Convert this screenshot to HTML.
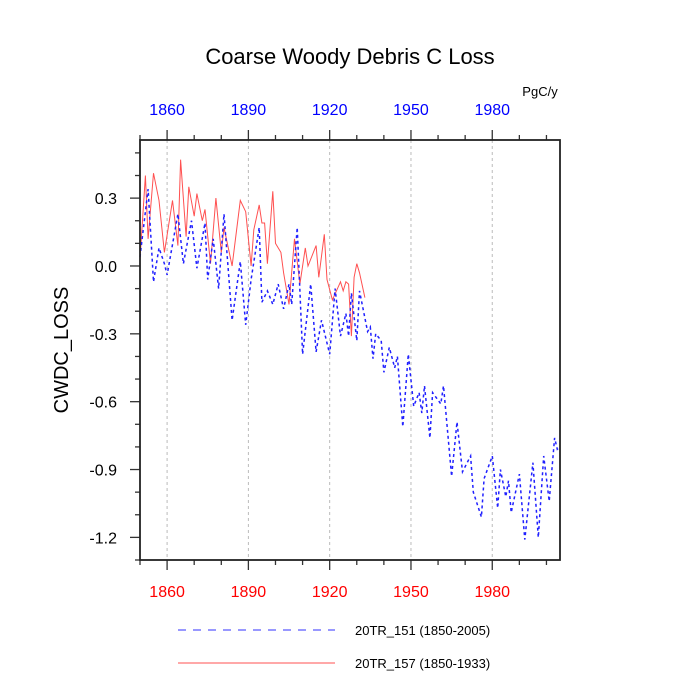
<!DOCTYPE html>
<html><head><meta charset="utf-8"><style>
body{margin:0;background:#fff}
svg{display:block;font-family:"Liberation Sans",sans-serif}
</style></head><body>
<svg id="chart" width="700" height="700" viewBox="0 0 700 700">
<text x="350" y="64" font-size="22" text-anchor="middle">Coarse Woody Debris C Loss</text>
<text x="540" y="96" font-size="13" text-anchor="middle">PgC/y</text>
<text transform="translate(68,350) rotate(-90)" font-size="20" text-anchor="middle">CWDC_LOSS</text>
<g id="grid"></g>
<g id="series"></g>
<g id="axes"></g>
<rect x="140" y="140" width="420" height="420" fill="none" stroke="#222" stroke-width="1.8"/>
<g>
<line x1="178" y1="630" x2="335" y2="630" stroke="#3030ff" stroke-width="1" stroke-dasharray="8,7"/>
<text x="355" y="635" font-size="13">20TR_151 (1850-2005)</text>
<line x1="178" y1="663" x2="335" y2="663" stroke="#ff5050" stroke-width="1"/>
<text x="355" y="668" font-size="13">20TR_157 (1850-1933)</text>
</g>
</svg>
<script>
const xTicks=[1860,1890,1920,1950,1980];
const yTicks=[0.3,0.0,-0.3,-0.6,-0.9,-1.2];
const yTickLabels=["0.3","0.0","-0.3","-0.6","-0.9","-1.2"];
const blueYears=[1850,1853,1855,1857,1859,1860,1864,1866,1869,1871,1874,1875,1877,1879,1881,1884,1887,1889,1891,1894,1895,1897,1899,1901,1903,1905,1906,1908,1910,1913,1915,1917,1920,1922,1924,1926,1927,1928,1930,1931,1934,1935,1936,1937,1939,1940,1942,1944,1945,1947,1949,1951,1953,1954,1955,1957,1958,1961,1962,1965,1967,1969,1972,1973,1976,1977,1980,1982,1983,1985,1986,1987,1990,1992,1995,1997,1999,2001,2003,2004,2005];
const blueVals=[0.04,0.34,-0.07,0.08,0.01,-0.04,0.23,0.01,0.20,-0.01,0.19,-0.06,0.12,-0.10,0.23,-0.24,0.02,-0.26,-0.06,0.17,-0.16,-0.11,-0.17,-0.08,-0.19,-0.08,-0.17,0.17,-0.39,-0.08,-0.38,-0.24,-0.39,-0.10,-0.31,-0.21,-0.31,-0.12,-0.33,-0.11,-0.29,-0.27,-0.41,-0.30,-0.33,-0.47,-0.36,-0.45,-0.40,-0.71,-0.39,-0.62,-0.56,-0.65,-0.53,-0.76,-0.56,-0.61,-0.53,-0.93,-0.69,-0.91,-0.84,-1.00,-1.11,-0.94,-0.84,-1.07,-0.90,-1.02,-0.95,-1.09,-0.92,-1.21,-0.87,-1.20,-0.84,-1.04,-0.76,-0.81,-0.80];
const redYears=[1850,1852,1853,1855,1857,1859,1862,1864,1865,1867,1868,1870,1871,1873,1874,1876,1878,1880,1881,1884,1887,1889,1891,1892,1894,1895,1896,1897,1899,1900,1902,1903,1905,1907,1908,1909,1911,1912,1915,1916,1918,1919,1921,1924,1925,1926,1927,1928,1929,1930,1931,1933];
const redVals=[0.03,0.40,0.12,0.41,0.29,0.06,0.29,0.09,0.47,0.13,0.35,0.22,0.32,0.20,0.25,0.01,0.30,0.06,0.17,0.00,0.29,0.24,0.00,0.16,0.27,0.19,0.19,0.01,0.33,0.10,0.06,-0.03,-0.17,0.12,0.02,-0.08,0.08,0.00,0.09,-0.05,0.14,-0.06,-0.15,-0.07,-0.11,-0.07,-0.08,-0.31,-0.05,0.01,-0.03,-0.14];
const NS="http://www.w3.org/2000/svg";
const X0=140,X1=560,Y0=140,Y1=560,XMIN=1850,XMAX=2005,YMIN=-1.3,YMAX=0.557;
function xs(v){return X0+(v-XMIN)/(XMAX-XMIN)*(X1-X0);}
function ys(v){return Y1-(v-YMIN)/(YMAX-YMIN)*(Y1-Y0);}
function mk(tag,attrs,parent){const e=document.createElementNS(NS,tag);for(const k in attrs)e.setAttribute(k,attrs[k]);parent.appendChild(e);return e;}
const grid=document.getElementById('grid'),axes=document.getElementById('axes'),series=document.getElementById('series');
xTicks.forEach(t=>{
  const g=mk('line',{x1:xs(t),x2:xs(t),y1:Y0,y2:Y1,stroke:'#bbb','stroke-dasharray':'3,3'},grid);
  
  
  const b=mk('text',{x:xs(t),y:597,'font-size':16,fill:'#ff0000','text-anchor':'middle'},axes);b.textContent=t;
  
  
  const tp=mk('text',{x:xs(t),y:115,'font-size':16,fill:'#0000ff','text-anchor':'middle'},axes);tp.textContent=t;
  
  
});
for(let yr=1850;yr<=2005;yr+=10){
  const L=(yr%30===0)?10:5;
  mk('line',{x1:xs(yr),x2:xs(yr),y1:Y1,y2:Y1+L,stroke:'#333','stroke-width':1.3},axes);
  mk('line',{x1:xs(yr),x2:xs(yr),y1:Y0,y2:Y0-L,stroke:'#333','stroke-width':1.3},axes);
}
for(let i=-13;i<=5;i++){
  const v=i/10,L=(i%3===0)?10:5;
  mk('line',{x1:X0-L,x2:X0,y1:ys(v),y2:ys(v),stroke:'#333','stroke-width':1.3},axes);
}
yTicks.forEach((t,i)=>{
  const l=mk('text',{x:117,y:ys(t)+6,'font-size':16,'text-anchor':'end'},axes);l.textContent=yTickLabels[i];
  
  
});
function path(years,vals){return years.map((y,i)=>(i?'L':'M')+xs(y).toFixed(1)+','+ys(vals[i]).toFixed(1)).join(' ');}
const rp=mk('path',{d:path(redYears,redVals),fill:'none',stroke:'#ff5050','stroke-width':1},series);


const bp=mk('path',{d:path(blueYears,blueVals),fill:'none',stroke:'#2020ff','stroke-width':1.5,'stroke-dasharray':'3,3'},series);


</script>
</body></html>
